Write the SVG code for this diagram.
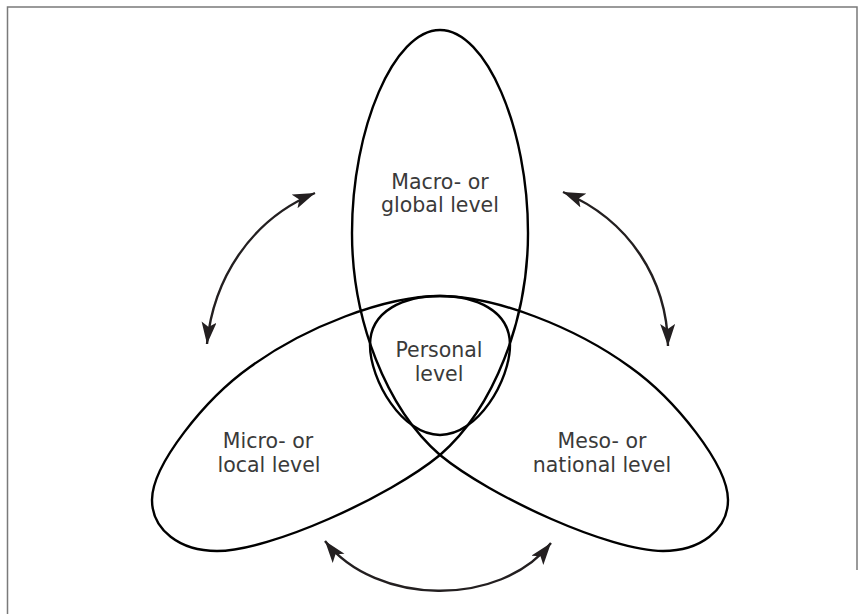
<svg xmlns="http://www.w3.org/2000/svg" width="864" height="614" viewBox="0 0 864 614">
  <defs>
    <style>
      .outline { fill: none; stroke: #000; stroke-width: 2.4; stroke-linejoin: round; }
      .arrow { fill: none; stroke: #231f20; stroke-width: 2.4; marker-start: url(#head); marker-end: url(#head); }
      .label { font-family: "DejaVu Sans", "Liberation Sans", sans-serif; font-size: 20.5px; fill: #3a3a3a; text-anchor: middle; }
      .frame { fill: none; stroke: #7a7a7a; stroke-width: 1.5; }
    </style>
    <marker id="head" markerUnits="userSpaceOnUse" markerWidth="26" markerHeight="16" refX="22" refY="7.5" orient="auto-start-reverse">
      <path d="M0,0 L22,7.5 L0,15 L5,7.5 Z" fill="#231f20"/>
    </marker>
  </defs>
  <rect width="864" height="614" fill="#fff"/>
  <path class="frame" d="M7.5,614 L7.5,7 L857,7 L857,570"/>

  <g id="levels-outline">
    <path class="outline" d="M440,30 C394,30 352,128 352,233 C352,320 386,408 440,455 C491,497 610,551 663,551 C700,551 728,530 728,500 C728,465 675,399 630,367 C575,327 495,296 440,296 C385,296 305,327 250,367 C205,399 152,465 152,500 C152,530 180,551 217,551 C270,551 389,497 440,455 C494,408 528,320 528,233 C528,128 486,30 440,30 Z"/>
  </g>

  <g id="macro">
    <text class="label" x="440" y="189">Macro- or</text>
    <text class="label" x="440" y="212">global level</text>
  </g>
  <g id="micro">
    <text class="label" x="268" y="448">Micro- or</text>
    <text class="label" x="269" y="472">local level</text>
  </g>
  <g id="meso">
    <text class="label" x="602" y="448">Meso- or</text>
    <text class="label" x="602" y="472">national level</text>
  </g>
  <g id="personal">
    <path class="outline" d="M440,296 C475,296 510,310 510,345 C510,380 478,435 440,435 C402,435 370,380 370,345 C370,310 405,296 440,296 Z"/>
    <text class="label" x="439" y="357">Personal</text>
    <text class="label" x="439" y="381">level</text>
  </g>

  <g id="connectors">
    <path class="arrow" d="M207,344 C213,280 250,220 315,193"/>
    <path class="arrow" d="M668,346 C667,280 630,220 563,192"/>
    <path class="arrow" d="M325,541 C376,606 500,608 551,543"/>
  </g>
</svg>
